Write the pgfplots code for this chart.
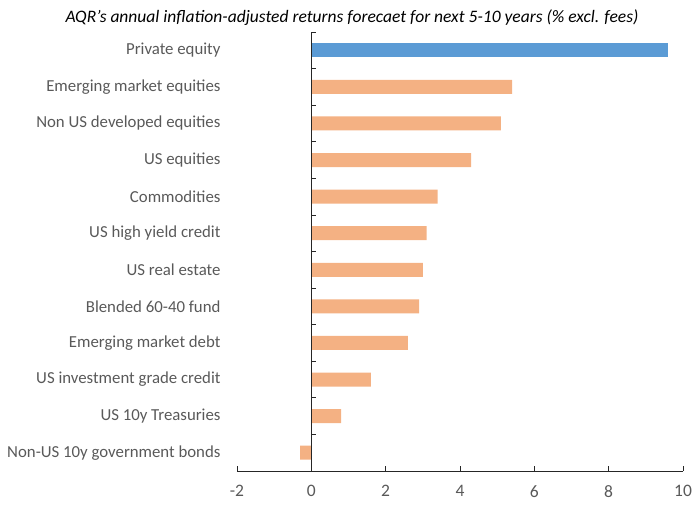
\documentclass[border=0pt]{standalone}
\usepackage{pgfplots}
\pgfplotsset{compat=1.18}
\usepackage{fontspec}
\setmainfont{Carlito}
\definecolor{pebar}{HTML}{5B9BD5}
\definecolor{otherbar}{HTML}{F4B183}
\definecolor{labgray}{HTML}{595959}
\begin{document}
\begin{tikzpicture}
\useasboundingbox (0,0) rectangle (700pt,525pt);
\node[font=\fontsize{17.5}{20}\selectfont\itshape] at (352pt,507pt)
  {AQR's annual inflation-adjusted returns forecaet for next 5-10 years (\% excl. fees)};
\begin{axis}[
    at={(237pt,54pt)}, anchor=south west,
    scale only axis,
    width=446pt, height=439pt,
    xbar, bar width=14pt, bar shift=0pt,
    xmin=-2, xmax=10,
    ymin=-0.5, ymax=11.5,
    axis x line*=bottom, axis y line*=left,
    y axis line style={draw=none},
    x axis line style={line width=0.8pt, black!85},
    tick align=inside,
    xtick={-2,0,...,10},
    major tick length=5pt,
    xtick style={line width=0.8pt, black!85},
    ytick={0,...,11},
    yticklabels={Non-US 10y government bonds, US 10y Treasuries, US investment grade credit,
      Emerging market debt, Blended 60-40 fund, US real estate, US high yield credit,
      Commodities, US equities, Non US developed equities, Emerging market equities,
      Private equity},
    ytick style={draw=none},
    yticklabel style={font=\fontsize{16.8}{19}\selectfont, text=labgray, xshift=-13pt},
    xticklabel style={font=\fontsize{17.5}{20}\selectfont, text=labgray, yshift=-11pt},
    /pgf/number format/assume math mode=true,
    clip=false,
]
\addplot[fill=otherbar, draw=none] coordinates {
    (-0.3,0) (0.8,1) (1.6,2) (2.6,3) (2.9,4) (3.0,5) (3.1,6)
    (3.4,7) (4.3,8) (5.1,9) (5.4,10)
};
\addplot[fill=pebar, draw=none] coordinates {(9.6,11)};
% zero line with category separator ticks
\draw[line width=0.8pt, black!85] (axis cs:0,-0.5) -- (axis cs:0,11.5);
\pgfplotsinvokeforeach{-0.5,0.5,1.5,2.5,3.5,4.5,5.5,6.5,7.5,8.5,9.5,10.5,11.5}{
  \draw[line width=0.8pt, black!85] (axis cs:0,#1) -- (axis cs:0.135,#1);
}
\end{axis}
\end{tikzpicture}
\end{document}
